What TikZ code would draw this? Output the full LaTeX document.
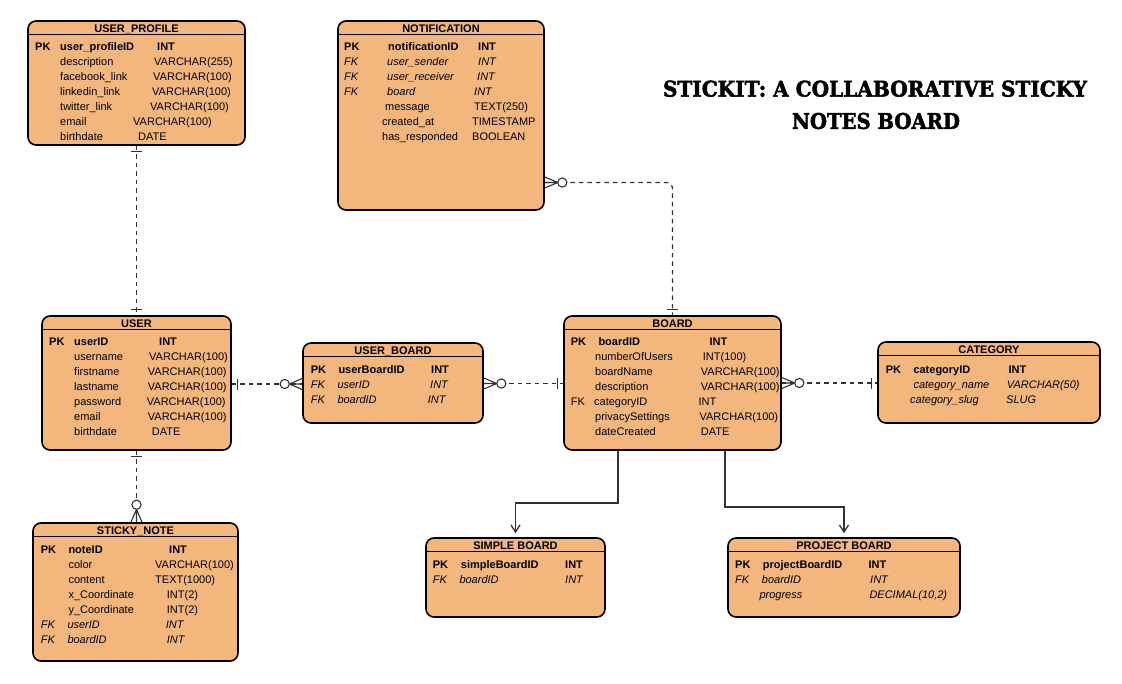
\documentclass[tikz,border=0pt]{standalone}
\usepackage{fontspec}
\setmainfont{Liberation Sans}
\newfontfamily\titlefont{DejaVu Serif}[BoldFeatures={FakeBold=2.2}]
\usetikzlibrary{arrows.meta,calc}
\definecolor{tblfill}{RGB}{243,183,125}
\definecolor{lnc}{RGB}{50,50,50}
\newcounter{tn}
\newcommand\tx[4][]{\stepcounter{tn}\node[txt,#1] (t\arabic{tn}) at ({#2},{#3+4}) {#4};}
\newcommand\ertab[6]{%
  \node[tbl, minimum width={(#4-#2)*1pt}, minimum height={(#5-#3)*1pt}] (#1) at ({(#2+#4)/2},{(#3+#5)/2}) {};
  \draw[sepline] ({#2},{#3+13.5}) -- ({#4},{#3+13.5});
  \node[hdr] (#1-title) at ({(#2+#4)/2},{#3+7}) {#6};
}
\tikzset{
  tbl/.style={draw=black, fill=tblfill, line width=1.6pt, rounded corners=8pt, inner sep=0pt},
  sepline/.style={draw=black, line width=1.2pt},
  hdr/.style={font=\fontsize{11}{13}\selectfont\bfseries, inner sep=0pt, text height=8pt, text depth=0pt},
  txt/.style={anchor=base west, inner sep=0pt, font=\fontsize{11}{13}\selectfont},
  b/.style={font=\fontsize{11}{13}\selectfont\bfseries},
  i/.style={font=\fontsize{11}{13}\selectfont\itshape},
  er/.style={draw=lnc, line width=1.2pt, dash pattern=on 4.5pt off 4pt},
  inh/.style={draw=lnc, line width=1.3pt, -{Straight Barb[length=7pt,width=9pt]}, shorten >=4pt},
  zm/.pic={\draw[solid,lnc,line width=1.1pt] (0,-5.5) -- (13,0) -- (0,5.5) (0,0) -- (13,0);
           \draw[solid,lnc,line width=1.1pt,fill=white] (17.5,0) circle[radius=4.6pt];},
  one/.pic={\draw[solid,lnc,line width=1.2pt] (6,-5.5) -- (6,5.5);}
}
\begin{document}
\begin{tikzpicture}[x=1pt,y=-1pt]
\useasboundingbox[fill=white] (0,0) rectangle (1122,683);

% tables
\ertab{up}{28}{21}{245}{145}{USER\_PROFILE}
\ertab{notif}{338}{21}{544}{210}{NOTIFICATION}
\ertab{user}{42}{316}{231}{450}{USER}
\ertab{ub}{303}{343}{483}{423}{USER\_BOARD}
\ertab{board}{564}{316}{781}{450}{BOARD}
\ertab{cat}{878}{342}{1100}{423}{CATEGORY}
\ertab{sn}{33}{523}{238}{661}{STICKY\_NOTE}
\ertab{sb}{426}{538}{605}{617}{SIMPLE BOARD}
\ertab{pb}{728}{538}{960}{617}{PROJECT BOARD}

% title
\node (title1) at (875,88.7) {\resizebox{424pt}{16pt}{\titlefont\bfseries STICKIT: A COLLABORATIVE STICKY}};
\node (title2) at (876,121) {\resizebox{168pt}{16pt}{\titlefont\bfseries NOTES BOARD}};

% USER_PROFILE
\tx[b]{35}{46}{PK}\tx[b]{60}{46}{user\_profileID}\tx[b]{157}{46}{INT}
\tx{60}{61}{description}\tx{154}{61}{VARCHAR(255)}
\tx{60}{76}{facebook\_link}\tx{153}{76}{VARCHAR(100)}
\tx{60}{91}{linkedin\_link}\tx{152}{91}{VARCHAR(100)}
\tx{60}{106}{twitter\_link}\tx{150}{106}{VARCHAR(100)}
\tx{60}{121}{email}\tx{133}{121}{VARCHAR(100)}
\tx{60}{136}{birthdate}\tx{138}{136}{DATE}

% NOTIFICATION
\tx[b]{344}{46}{PK}\tx[b]{388}{46}{notificationID}\tx[b]{478}{46}{INT}
\tx[i]{344}{61}{FK}\tx[i]{387}{61}{user\_sender}\tx[i]{478}{61}{INT}
\tx[i]{344}{76}{FK}\tx[i]{387}{76}{user\_receiver}\tx[i]{477}{76}{INT}
\tx[i]{344}{91}{FK}\tx[i]{387}{91}{board}\tx[i]{474}{91}{INT}
\tx{385}{106}{message}\tx{474}{106}{TEXT(250)}
\tx{382}{121}{created\_at}\tx{472}{121}{TIMESTAMP}
\tx{382}{136}{has\_responded}\tx{472}{136}{BOOLEAN}

% USER
\tx[b]{49}{341}{PK}\tx[b]{74}{341}{userID}\tx[b]{159}{341}{INT}
\tx{74}{356}{username}\tx{149}{356}{VARCHAR(100)}
\tx{74}{371}{firstname}\tx{147.7}{371}{VARCHAR(100)}
\tx{74}{386}{lastname}\tx{147.7}{386}{VARCHAR(100)}
\tx{74}{401}{password}\tx{146.7}{401}{VARCHAR(100)}
\tx{74}{416}{email}\tx{147.7}{416}{VARCHAR(100)}
\tx{74}{431}{birthdate}\tx{151.7}{431}{DATE}

% USER_BOARD
\tx[b]{310.7}{369}{PK}\tx[b]{338.3}{369}{userBoardID}\tx[b]{431}{369}{INT}
\tx[i]{310.7}{384}{FK}\tx[i]{337.3}{384}{userID}\tx[i]{430}{384}{INT}
\tx[i]{310.7}{399}{FK}\tx[i]{337.3}{399}{boardID}\tx[i]{427.7}{399}{INT}

% BOARD
\tx[b]{570.7}{341}{PK}\tx[b]{598.3}{341}{boardID}\tx[b]{709.3}{341}{INT}
\tx{595}{356}{numberOfUsers}\tx{702.7}{356}{INT(100)}
\tx{595}{371}{boardName}\tx{700.7}{371}{VARCHAR(100)}
\tx{595}{386}{description}\tx{700.7}{386}{VARCHAR(100)}
\tx{570.7}{401}{FK}\tx{594}{401}{categoryID}\tx{698.3}{401}{INT}
\tx{595}{416}{privacySettings}\tx{699.3}{416}{VARCHAR(100)}
\tx{595}{431}{dateCreated}\tx{700.7}{431}{DATE}

% CATEGORY
\tx[b]{885.7}{369}{PK}\tx[b]{913.3}{369}{categoryID}\tx[b]{1008.3}{369}{INT}
\tx[i]{913.3}{384}{category\_name}\tx[i]{1006.7}{384}{VARCHAR(50)}
\tx[i]{910}{399}{category\_slug}\tx[i]{1006}{399}{SLUG}

% STICKY_NOTE
\tx[b]{40.7}{549}{PK}\tx[b]{68.3}{549}{noteID}\tx[b]{169}{549}{INT}
\tx{68.3}{564}{color}\tx{155}{564}{VARCHAR(100)}
\tx{68.3}{579}{content}\tx{155}{579}{TEXT(1000)}
\tx{68.3}{594}{x\_Coordinate}\tx{166.7}{594}{INT(2)}
\tx{68.3}{609}{y\_Coordinate}\tx{166.7}{609}{INT(2)}
\tx[i]{40.7}{624}{FK}\tx[i]{67.3}{624}{userID}\tx[i]{165.7}{624}{INT}
\tx[i]{40.7}{639}{FK}\tx[i]{67.3}{639}{boardID}\tx[i]{166.7}{639}{INT}

% SIMPLE BOARD
\tx[b]{432.7}{564}{PK}\tx[b]{460.7}{564}{simpleBoardID}\tx[b]{565}{564}{INT}
\tx[i]{432.7}{579}{FK}\tx[i]{459.3}{579}{boardID}\tx[i]{565}{579}{INT}

% PROJECT BOARD
\tx[b]{735}{564}{PK}\tx[b]{762.7}{564}{projectBoardID}\tx[b]{868.3}{564}{INT}
\tx[i]{735}{579}{FK}\tx[i]{761.7}{579}{boardID}\tx[i]{870}{579}{INT}
\tx[i]{759.3}{594}{progress}\tx[i]{869.3}{594}{DECIMAL(10,2)}

% ---------- relationships ----------
% USER_PROFILE -- USER
\draw[er] (up.south) -- (user.north);
\pic[rotate=-90] at (up.south) {one};
\pic[rotate=90] at (user.north) {one};
% USER -- STICKY_NOTE
\draw[er] (user.south) -- (user.south |- sn.north);
\pic[rotate=-90] at (user.south) {one};
\pic[rotate=90] at (user.south |- sn.north) {zm};
% USER -- USER_BOARD
\draw[er] (user.east |- 0,384) -- (ub.west |- 0,384);
\pic at (user.east |- 0,384) {one};
\pic[rotate=180] at (ub.west |- 0,384) {zm};
% USER_BOARD -- BOARD
\draw[er] (ub.east |- 0,383.5) -- (board.west |- 0,383.5);
\pic at (ub.east |- 0,383.5) {zm};
\pic[rotate=180] at (board.west |- 0,383.5) {one};
% BOARD -- CATEGORY
\draw[er] (board.east |- 0,383) -- (cat.west |- 0,383);
\pic at (board.east |- 0,383) {zm};
\pic[rotate=180] at (cat.west |- 0,383) {one};
% NOTIFICATION -- BOARD
\draw[er, rounded corners=6pt] (notif.east |- 0,182.5) -| (board.north);
\pic at (notif.east |- 0,182.5) {zm};
\pic[rotate=90] at (board.north) {one};
% BOARD -> SIMPLE / PROJECT
\draw[inh] (618,0 |- board.south) |- (sb.north |- 0,503) -- (sb.north);
\draw[inh] (725,0 |- board.south) |- (pb.north |- 0,507) -- (pb.north);
\end{tikzpicture}
\end{document}
